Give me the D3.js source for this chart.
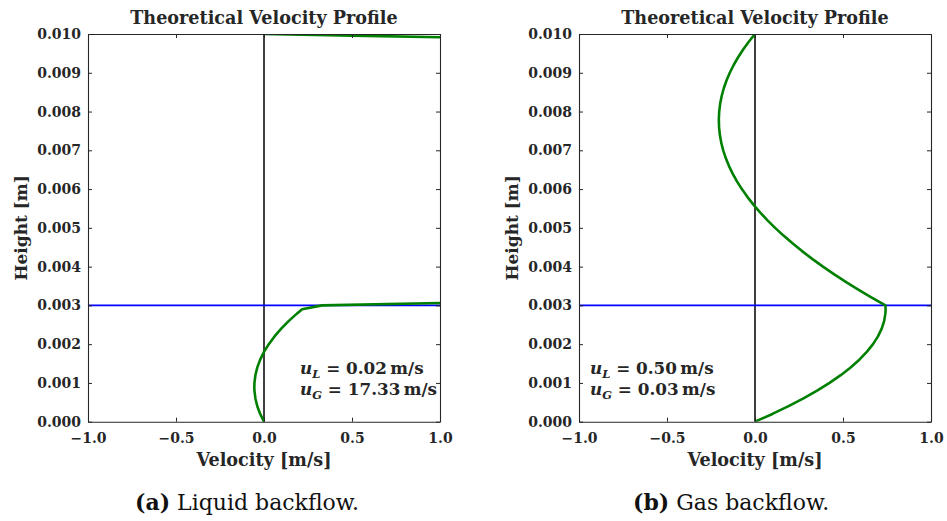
<!DOCTYPE html>
<html>
<head>
<meta charset="utf-8">
<script src="https://cdn.jsdelivr.net/npm/d3@7"></script>
<style>
  html, body { margin: 0; padding: 0; background: #ffffff; }
  svg { display: block; }
</style>
</head>
<body>
<svg id="fig" width="947" height="521"></svg>
<script>
// ---- data -------------------------------------------------------------
const xTicks = [-1.0, -0.5, 0.0, 0.5, 1.0];
const yTicks = [0.000, 0.001, 0.002, 0.003, 0.004, 0.005, 0.006, 0.007, 0.008, 0.009, 0.010];
const interfaceHeight = 0.003;
const channelHeight = 0.010;

// Panel (a): liquid backflow — [velocity m/s, height m]
const liquidBackflowLower = [
  [0.0000, 0.0000], [-0.0217, 0.0002], [-0.0380, 0.0004], [-0.0489, 0.0006],
  [-0.0543, 0.0008], [-0.0550, 0.0009], [-0.0543, 0.0010], [-0.0489, 0.0012],
  [-0.0380, 0.0014], [-0.0217, 0.0016], [0.0000, 0.0018], [0.0272, 0.0020],
  [0.0598, 0.0022], [0.0978, 0.0024], [0.1412, 0.0026], [0.1900, 0.0028],
  [0.2166, 0.0029], [0.3300, 0.00300], [1.0000, 0.00306]
];
const liquidBackflowUpper = [
  [1.0000, 0.009915], [0.5000, 0.009957], [0.0000, 0.0100]
];

// Panel (b): gas backflow — [velocity m/s, height m]
const gasBackflowProfile = [
  [0.0000, 0.0000], [0.0988, 0.0002], [0.1906, 0.0004], [0.2753, 0.0006],
  [0.3529, 0.0008], [0.4235, 0.0010], [0.4870, 0.0012], [0.5435, 0.0014],
  [0.5928, 0.0016], [0.6352, 0.0018], [0.6705, 0.0020], [0.6987, 0.0022],
  [0.7199, 0.0024], [0.7340, 0.0026], [0.7411, 0.0028], [0.7420, 0.0029],
  [0.7410, 0.0030],
  [0.6634, 0.0032], [0.5891, 0.0034], [0.5181, 0.0036], [0.4504, 0.0038],
  [0.3861, 0.0040], [0.3250, 0.0042], [0.2673, 0.0044], [0.2130, 0.0046],
  [0.1619, 0.0048], [0.1142, 0.0050], [0.0697, 0.0052], [0.0286, 0.0054],
  [-0.0091, 0.0056], [-0.0436, 0.0058], [-0.0747, 0.0060], [-0.1025, 0.0062],
  [-0.1270, 0.0064], [-0.1482, 0.0066], [-0.1661, 0.0068], [-0.1806, 0.0070],
  [-0.1918, 0.0072], [-0.1997, 0.0074], [-0.2042, 0.0076], [-0.2055, 0.0078],
  [-0.2034, 0.0080], [-0.1980, 0.0082], [-0.1893, 0.0084], [-0.1773, 0.0086],
  [-0.1619, 0.0088], [-0.1432, 0.0090], [-0.1212, 0.0092], [-0.0959, 0.0094],
  [-0.0673, 0.0096], [-0.0353, 0.0098], [0.0000, 0.0100]
];

const panels = [
  {
    left: 88, series: [liquidBackflowLower, liquidBackflowUpper],
    note: [["L", "0.02"], ["G", "17.33"]], noteX: 300,
    captionLetter: "(a)", captionText: " Liquid backflow.", captionX: 135
  },
  {
    left: 579, series: [gasBackflowProfile],
    note: [["L", "0.50"], ["G", "0.03"]], noteX: 590,
    captionLetter: "(b)", captionText: " Gas backflow.", captionX: 633
  }
];

// ---- layout -----------------------------------------------------------
const plotW = 352, plotTop = 34, plotBottom = 421.7;
const svg = d3.select("#fig");
const ink = "#262626";
const serif = "DejaVu Serif, serif";

panels.forEach((p, i) => {
  const x = d3.scaleLinear().domain([-1, 1]).range([p.left, p.left + plotW]);
  const y = d3.scaleLinear().domain([0, channelHeight]).range([plotBottom, plotTop]);
  const g = svg.append("g");

  const clipId = "clip" + i;
  svg.append("clipPath").attr("id", clipId)
    .append("rect").attr("x", p.left).attr("y", plotTop)
    .attr("width", plotW).attr("height", plotBottom - plotTop);

  // zero-velocity reference line
  g.append("line")
    .attr("x1", x(0)).attr("x2", x(0)).attr("y1", y(0)).attr("y2", y(channelHeight))
    .attr("stroke", "#000").attr("stroke-width", 1.5);

  // gas–liquid interface
  g.append("line")
    .attr("x1", x(-1)).attr("x2", x(1))
    .attr("y1", y(interfaceHeight)).attr("y2", y(interfaceHeight))
    .attr("stroke", "#0000ff").attr("stroke-width", 1.6);

  // velocity profile
  const line = d3.line().x(d => x(d[0])).y(d => y(d[1])).curve(d3.curveLinear);
  p.series.forEach(s => {
    g.append("path").datum(s)
      .attr("d", line)
      .attr("clip-path", `url(#${clipId})`)
      .attr("fill", "none").attr("stroke", "#008000")
      .attr("stroke-width", 2.6).attr("stroke-linejoin", "round");
  });

  // axes with inward ticks on all four sides
  const fmtX = d3.format(".1f"), fmtY = d3.format(".3f");
  const styleAxis = sel => {
    sel.select(".domain").attr("stroke", ink).attr("stroke-width", 1.1);
    sel.selectAll(".tick line").attr("stroke", ink).attr("stroke-width", 1);
    sel.selectAll("text").attr("font-size", 14).attr("font-weight", "bold")
      .attr("fill", ink).attr("font-family", serif);
  };
  g.append("g").attr("transform", `translate(0,${plotBottom})`)
    .call(d3.axisBottom(x).tickValues(xTicks).tickFormat(fmtX).tickSizeInner(-4).tickSizeOuter(0).tickPadding(11))
    .call(styleAxis);
  g.append("g").attr("transform", `translate(0,${plotTop})`)
    .call(d3.axisTop(x).tickValues(xTicks).tickFormat("").tickSizeInner(-4).tickSizeOuter(0))
    .call(styleAxis);
  g.append("g").attr("transform", `translate(${p.left},0)`)
    .call(d3.axisLeft(y).tickValues(yTicks).tickFormat(fmtY).tickSizeInner(-4).tickSizeOuter(0).tickPadding(7))
    .call(styleAxis);
  g.append("g").attr("transform", `translate(${p.left + plotW},0)`)
    .call(d3.axisRight(y).tickValues(yTicks).tickFormat("").tickSizeInner(-4).tickSizeOuter(0))
    .call(styleAxis);

  // title and axis labels
  const cx = p.left + plotW / 2;
  const label = sel => sel.attr("font-family", serif).attr("font-weight", "bold").attr("fill", ink);
  g.append("text").attr("x", cx).attr("y", 24).attr("text-anchor", "middle")
    .attr("font-size", 17.6).call(label).text("Theoretical Velocity Profile");
  g.append("text").attr("x", cx).attr("y", 466).attr("text-anchor", "middle")
    .attr("font-size", 17.6).call(label).text("Velocity [m/s]");
  g.append("text")
    .attr("transform", `translate(${p.left - 61},${(plotTop + plotBottom) / 2}) rotate(-90)`)
    .attr("text-anchor", "middle").attr("font-size", 17).call(label)
    .text("Height [m]");

  // superficial velocity annotation
  p.note.forEach((n, k) => {
    const t = g.append("text").attr("x", p.noteX).attr("y", 374 + k * 21)
      .attr("font-size", 16.8).call(label);
    t.append("tspan").attr("font-style", "italic").text("u");
    t.append("tspan").attr("font-style", "italic").attr("font-size", 11.5)
      .attr("dy", 4).text(n[0]);
    t.append("tspan").attr("dy", -4).text(` = ${n[1]}\u2009m/s`);
  });

  // sub-figure caption
  const c = g.append("text").attr("x", p.captionX).attr("y", 510)
    .attr("font-size", 22).attr("font-family", serif).attr("fill", "#111");
  c.append("tspan").attr("font-weight", "bold").text(p.captionLetter);
  c.append("tspan").text(p.captionText);
});
</script>
</body>
</html>
